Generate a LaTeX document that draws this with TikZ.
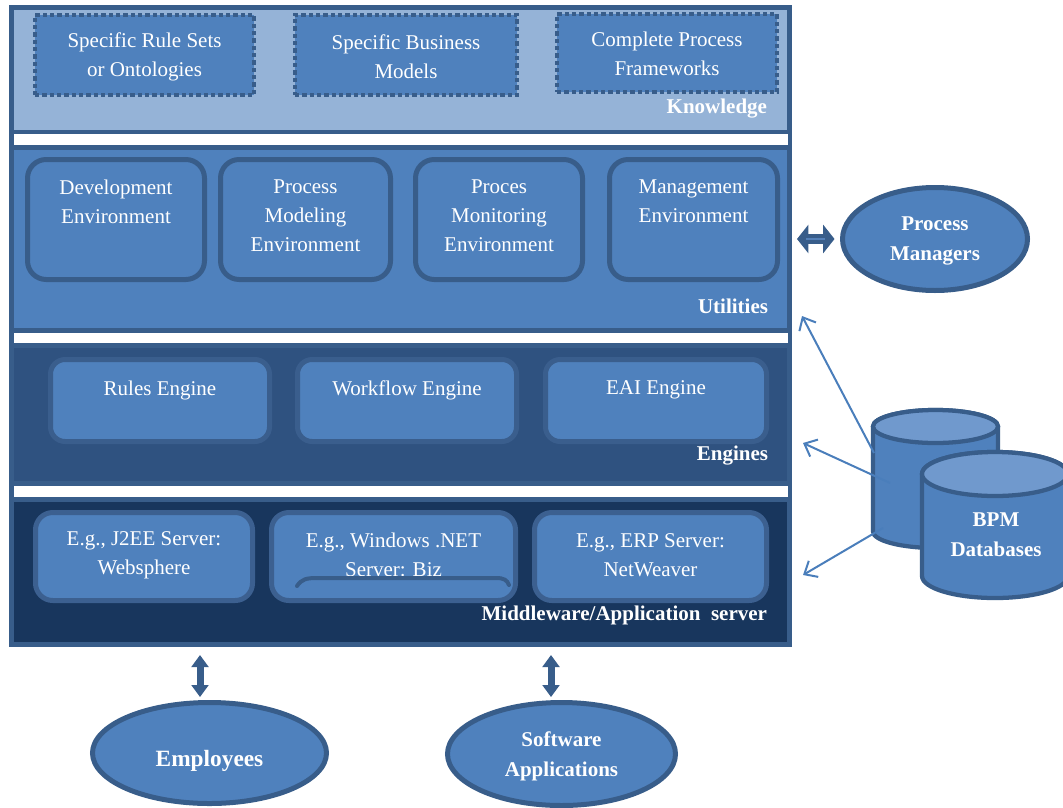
\documentclass[tikz,border=0pt]{standalone}
\usepackage{fontspec}
\setmainfont{Liberation Serif}
\usetikzlibrary{shapes.geometric,arrows.meta,fit,calc}

\definecolor{edge}{RGB}{56,93,138}
\definecolor{kfill}{RGB}{149,179,215}
\definecolor{accent}{RGB}{79,129,189}
\definecolor{engbg}{RGB}{47,82,128}
\definecolor{engedge}{RGB}{58,94,141}
\definecolor{midbg}{RGB}{24,54,93}
\definecolor{midedge}{RGB}{60,96,144}
\definecolor{captop}{RGB}{112,153,205}
\definecolor{link}{RGB}{74,126,187}
\definecolor{stripe}{RGB}{84,128,184}

\begin{document}
\begin{tikzpicture}[x=0.75pt,y=-0.75pt,
  every node/.style={inner sep=0pt, outer sep=0pt},
  area/.style={rectangle, draw=none},
  band/.style={rectangle, fill=white, draw=none},
  body/.style={font=\fontsize{15.75}{21.75}\selectfont, text=white, align=center},
  bold/.style={font=\fontsize{15.75}{22.5}\selectfont\bfseries, text=white, align=center},
  tag/.style={font=\fontsize{15.75}{19}\selectfont\bfseries, text=white, anchor=base east},
  kbox/.style={rectangle, fill=accent, draw=edge, line width=3pt, dash pattern=on 3.2pt off 2.3pt},
  ubox/.style={rectangle, rounded corners=14pt, fill=accent, draw=edge, line width=3.75pt},
  ebox/.style={rectangle, rounded corners=11pt, fill=accent, draw=engedge, line width=3.75pt},
  mbox/.style={rectangle, rounded corners=13pt, fill=accent, draw=midedge, line width=3.75pt},
  actor/.style={ellipse, fill=accent, draw=edge, line width=3.75pt},
  drum/.style={fill=accent, draw=edge, line width=3.2pt},
  drumtop/.style={fill=captop, draw=edge, line width=3.2pt},
  fatv/.style={draw=edge, line width=5.25pt, {Triangle[length=9pt,width=12.5pt]}-{Triangle[length=9pt,width=12.5pt]}},
  fath/.style={draw=edge, line width=7.5pt, {Triangle[length=8.5pt,width=21pt]}-{Triangle[length=8.5pt,width=21pt]}},
  feed/.style={draw=link, line width=1.5pt, -{Straight Barb[length=8pt,width=14pt]}},
]
\useasboundingbox (0,0) rectangle (1063,807);

% ---- layered frame ----
\node[area, fill=edge, fit={(9,5)(792,647)}] (frame) {};
\node[area, fill=kfill, fit={(14,10)(787,130)}] (knowledge) {};
\node[band, fit={(14,134)(788,145)}] (gap1) {};
\node[area, fill=accent, fit={(14,150)(787,328)}] (utilities) {};
\node[band, fit={(14,333)(788,343)}] (gap2) {};
\node[area, fill=engbg, fit={(14,348)(787,481)}] (engines) {};
\node[band, fit={(14,486)(788,497)}] (gap3) {};
\node[area, fill=midbg, fit={(14,502)(787,642)}] (middleware) {};

% ---- knowledge layer ----
\node[kbox, fit={(35,15)(254,95)}] (k1) {};
\node[kbox, fit={(295,15)(517,95)}] (k2) {};
\node[kbox, fit={(557,14)(777,92)}] (k3) {};
\node[body] (k1t) at ([yshift=-1.5pt]k1.center) {Specific Rule Sets\\or Ontologies};
\node[body] (k2t) at ([yshift=-1.5pt]k2.center) {Specific Business\\Models};
\node[body] (k3t) at ([yshift=-0.5pt]k3.center) {Complete Process\\Frameworks};
\node[tag] (lk) at (767,113) {Knowledge};

% ---- utilities layer ----
\node[ubox, fit={(27.5,159.5)(204.5,279.5)}] (u1) {};
\node[ubox, fit={(220.5,159.5)(390.5,279.5)}] (u2) {};
\node[ubox, fit={(415.5,159.5)(582.5,279.5)}] (u3) {};
\node[ubox, fit={(609.5,159.5)(777.5,279.5)}] (u4) {};
\node[body, anchor=north] (u1t) at ([yshift=-15.5pt]u1.north) {Development\\Environment};
\node[body, anchor=north] (u2t) at ([yshift=-15.5pt]u2.north) {Process\\Modeling\\Environment};
\node[body, anchor=north] (u3t) at ([yshift=-15.5pt]u3.north) {Proces\\Monitoring\\Environment};
\node[body, anchor=north] (u4t) at ([yshift=-15.5pt]u4.north) {Management\\Environment};
\node[tag] (lu) at (768,313) {Utilities};

% ---- engines layer ----
\node[ebox, fit={(50.5,359.5)(269.5,441.5)}] (e1) {};
\node[ebox, fit={(297.5,359.5)(516.5,441.5)}] (e2) {};
\node[ebox, fit={(545.5,359.5)(766.5,441.5)}] (e3) {};
\node[body, anchor=north] (e1t) at ([yshift=-16pt]e1.north) {Rules Engine};
\node[body, anchor=north] (e2t) at ([yshift=-16pt]e2.north) {Workflow Engine};
\node[body, anchor=north] (e3t) at ([yshift=-16pt]e3.north) {EAI Engine};
\node[tag] (le) at (768,460) {Engines};

% ---- middleware layer ----
\node[mbox, fit={(35.5,512.5)(252.5,600.5)}] (m1) {};
\node[mbox, fit={(271.5,512.5)(515.5,600.5)}] (m2) {};
\node[mbox, fit={(534.5,512.5)(766.5,600.5)}] (m3) {};
\node[body] (m1t) at ([yshift=1pt]m1.center) {E.g., J2EE Server:\\Websphere};
\node[body] (m2t) at ([yshift=1pt]m2.center) {E.g., Windows .NET\\Server: Biz};
\node[body] (m3t) at ([yshift=1pt]m3.center) {E.g., ERP Server:\\NetWeaver};
\draw[edge, line width=3pt, line cap=round]
  (297,586) .. controls (302,579) and (306,578) .. (318,578) -- (496,578)
  .. controls (504,578) and (507,580) .. (509,585);
\node[tag] (lm) at (767,620) {Middleware/Application~~server};

% ---- process managers ----
\node[actor, minimum width=138.75pt, minimum height=77.25pt] (pm) at (935,239) {};
\node[bold] (pmt) at ([yshift=-1.5pt]pm.center) {Process\\Managers};
\draw[fath, shorten <=3.75pt, shorten >=6pt] (frame.east |- pm.west) -- (pm.west);
\draw[stripe, line width=1.2pt, shorten <=10.5pt, shorten >=13pt] (frame.east |- pm.west) -- (pm.west);

% ---- BPM databases ----
\node[fit={(873,410)(998,548)}] (dbback) {};
\draw[drum] (873,426.5) -- (873,531.5)
  arc[start angle=180, end angle=360, x radius=46.875pt, y radius=12.375pt]
  -- (998,426.5)
  arc[start angle=0, end angle=180, x radius=46.875pt, y radius=12.375pt] -- cycle;
\draw[drumtop] (935.5,426.5) ellipse [x radius=46.875pt, y radius=12.375pt];

\coordinate (s1) at (874,453);
\coordinate (s2) at (890,483);
\coordinate (s3) at (883,528);
\coordinate (t1) at (802,316);
\coordinate (t2) at (803,443);
\coordinate (t3) at (803,575);
\draw[feed] (s1) -- (t1);
\draw[feed] (s2) -- (t2);
\draw[feed] (s3) -- (t3);

\node[fit={(922,452)(1068,598)}] (dbfront) {};
\draw[drum] (922,474) -- (922,576)
  arc[start angle=180, end angle=360, x radius=54.75pt, y radius=16.5pt]
  -- (1068,474)
  arc[start angle=0, end angle=180, x radius=54.75pt, y radius=16.5pt] -- cycle;
\draw[drumtop] (995,474) ellipse [x radius=54.75pt, y radius=16.5pt];
\node[bold] (bpm) at (996,535) {BPM\\Databases};

% ---- users of the platform ----
\node[actor, minimum width=175.5pt, minimum height=75.75pt] (emp) at (209.5,753) {};
\node[bold, font=\fontsize{17.5}{22.5}\selectfont\bfseries] (empt) at ([yshift=-6pt]emp.center) {Employees};
\node[actor, minimum width=171pt, minimum height=77.25pt] (sw) at (561.5,754) {};
\node[bold] (swt) at ([yshift=-2pt]sw.center) {Software\\Applications};
\coordinate (ea) at ($(emp.north)+(-9.5,0)$);
\coordinate (sa) at ($(sw.north)+(-10.5,0)$);
\draw[fatv, shorten <=6pt, shorten >=4.1pt] (ea |- frame.south) -- (ea);
\draw[fatv, shorten <=6pt, shorten >=4.1pt] (sa |- frame.south) -- (sa);
\end{tikzpicture}
\end{document}
